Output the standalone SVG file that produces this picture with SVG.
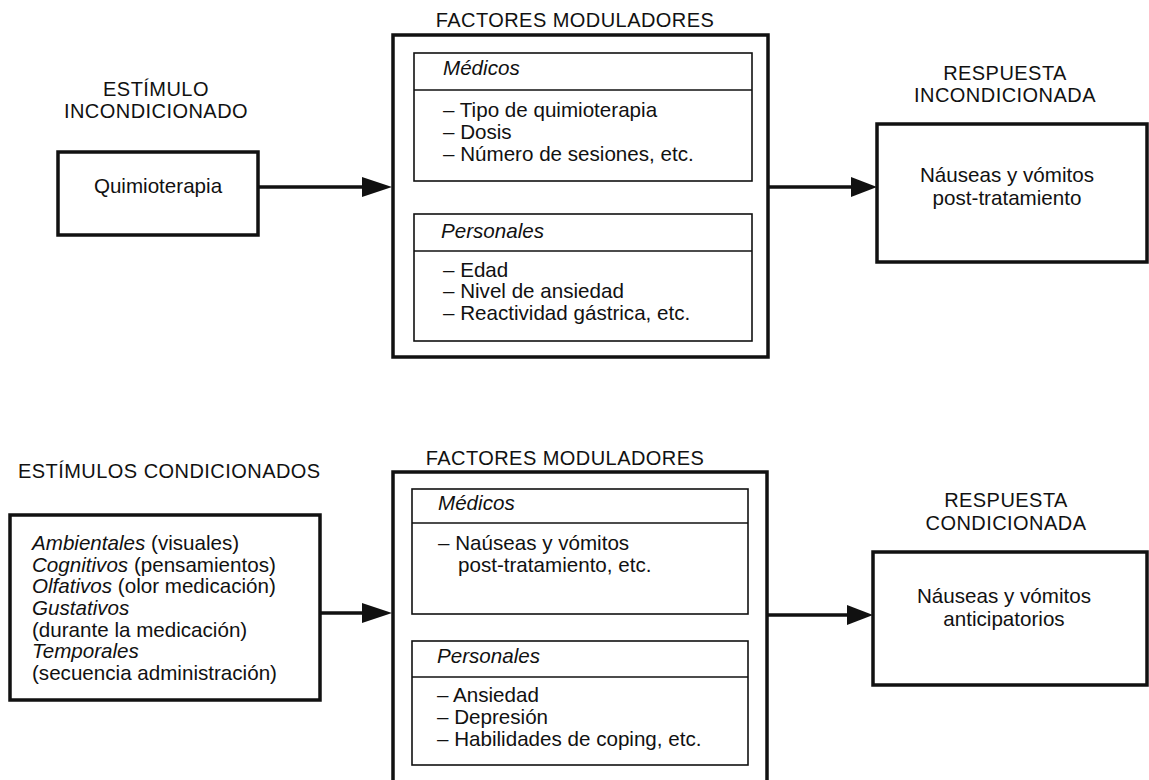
<svg xmlns="http://www.w3.org/2000/svg" width="1149" height="780" viewBox="0 0 1149 780">
<style>
text{font-family:"Liberation Sans",Arial,sans-serif;fill:#111;}
.t{font-size:20px;letter-spacing:0.45px;}
.b{font-size:20.6px;}
.i{font-style:italic;}
.m{text-anchor:middle;}
.outer{fill:none;stroke:#111;stroke-width:3.5;}
.inner{fill:none;stroke:#111;stroke-width:1.6;}
.conn{stroke:#111;stroke-width:3.5;fill:none;}
.head{fill:#111;stroke:none;}
</style>
<rect width="1149" height="780" fill="#fff"/>

<!-- TOP SECTION -->
<g id="estimulo-incondicionado">
  <text class="t m" x="156" y="96">ESTÍMULO</text>
  <text class="t m" x="156" y="118">INCONDICIONADO</text>
  <rect class="outer" x="58" y="152" width="200" height="83"/>
  <text class="b m" x="158" y="193">Quimioterapia</text>
</g>

<g id="factores-top">
  <text class="t m" x="575" y="27">FACTORES MODULADORES</text>
  <rect class="outer" x="393" y="35" width="375" height="322"/>
  <g id="medicos-top">
    <rect class="inner" x="414" y="53" width="338" height="128"/>
    <line class="inner" x1="414" y1="90" x2="752" y2="90"/>
    <text class="b i" x="443" y="75">Médicos</text>
    <text class="b" x="443" y="117">– Tipo de quimioterapia</text>
    <text class="b" x="443" y="139">– Dosis</text>
    <text class="b" x="443" y="161">– Número de sesiones, etc.</text>
  </g>
  <g id="personales-top">
    <rect class="inner" x="414" y="214" width="338" height="127"/>
    <line class="inner" x1="414" y1="251" x2="752" y2="251"/>
    <text class="b i" x="441" y="238">Personales</text>
    <text class="b" x="443" y="277">– Edad</text>
    <text class="b" x="443" y="298">– Nivel de ansiedad</text>
    <text class="b" x="443" y="320">– Reactividad gástrica, etc.</text>
  </g>
</g>

<g id="respuesta-incondicionada">
  <text class="t m" x="1005" y="80">RESPUESTA</text>
  <text class="t m" x="1005" y="102">INCONDICIONADA</text>
  <rect class="outer" x="877" y="124" width="270" height="138"/>
  <text class="b m" x="1007" y="182">Náuseas y vómitos</text>
  <text class="b m" x="1007" y="205">post-tratamiento</text>
</g>

<!-- BOTTOM SECTION -->
<g id="estimulos-condicionados">
  <text class="t" x="18" y="478">ESTÍMULOS CONDICIONADOS</text>
  <rect class="outer" x="10" y="515" width="310" height="185"/>
  <text class="b" x="32" y="550"><tspan class="i">Ambientales</tspan> (visuales)</text>
  <text class="b" x="32" y="572"><tspan class="i">Cognitivos</tspan> (pensamientos)</text>
  <text class="b" x="32" y="593"><tspan class="i">Olfativos</tspan> (olor medicación)</text>
  <text class="b i" x="32" y="615">Gustativos</text>
  <text class="b" x="32" y="637">(durante la medicación)</text>
  <text class="b i" x="32" y="658">Temporales</text>
  <text class="b" x="32" y="680">(secuencia administración)</text>
</g>

<g id="factores-bottom">
  <text class="t m" x="565" y="465">FACTORES MODULADORES</text>
  <rect class="outer" x="393" y="472" width="374" height="330"/>
  <g id="medicos-bottom">
    <rect class="inner" x="412" y="489" width="336" height="125"/>
    <line class="inner" x1="412" y1="523" x2="748" y2="523"/>
    <text class="b i" x="438" y="510">Médicos</text>
    <text class="b" x="438" y="550">– Naúseas y vómitos</text>
    <text class="b" x="458" y="572">post-tratamiento, etc.</text>
  </g>
  <g id="personales-bottom">
    <rect class="inner" x="412" y="641" width="336" height="124"/>
    <line class="inner" x1="412" y1="677" x2="748" y2="677"/>
    <text class="b i" x="437" y="663">Personales</text>
    <text class="b" x="437" y="702">– Ansiedad</text>
    <text class="b" x="437" y="724">– Depresión</text>
    <text class="b" x="437" y="746">– Habilidades de coping, etc.</text>
  </g>
</g>

<g id="respuesta-condicionada">
  <text class="t m" x="1006" y="507">RESPUESTA</text>
  <text class="t m" x="1006" y="530">CONDICIONADA</text>
  <rect class="outer" x="873" y="552" width="274" height="133"/>
  <text class="b m" x="1004" y="603">Náuseas y vómitos</text>
  <text class="b m" x="1004" y="626">anticipatorios</text>
</g>

<!-- CONNECTORS -->
<g id="connectors">
  <line class="conn" x1="258" y1="187" x2="366" y2="187"/>
  <polygon class="head" points="362,177 392,187 362,197"/>
  <line class="conn" x1="768" y1="187" x2="855" y2="187"/>
  <polygon class="head" points="851,177 877,187 851,197"/>
  <line class="conn" x1="320" y1="613" x2="366" y2="613"/>
  <polygon class="head" points="362,603 392,613 362,623"/>
  <line class="conn" x1="767" y1="615" x2="851" y2="615"/>
  <polygon class="head" points="847,605 873,615 847,625"/>
</g>
</svg>
